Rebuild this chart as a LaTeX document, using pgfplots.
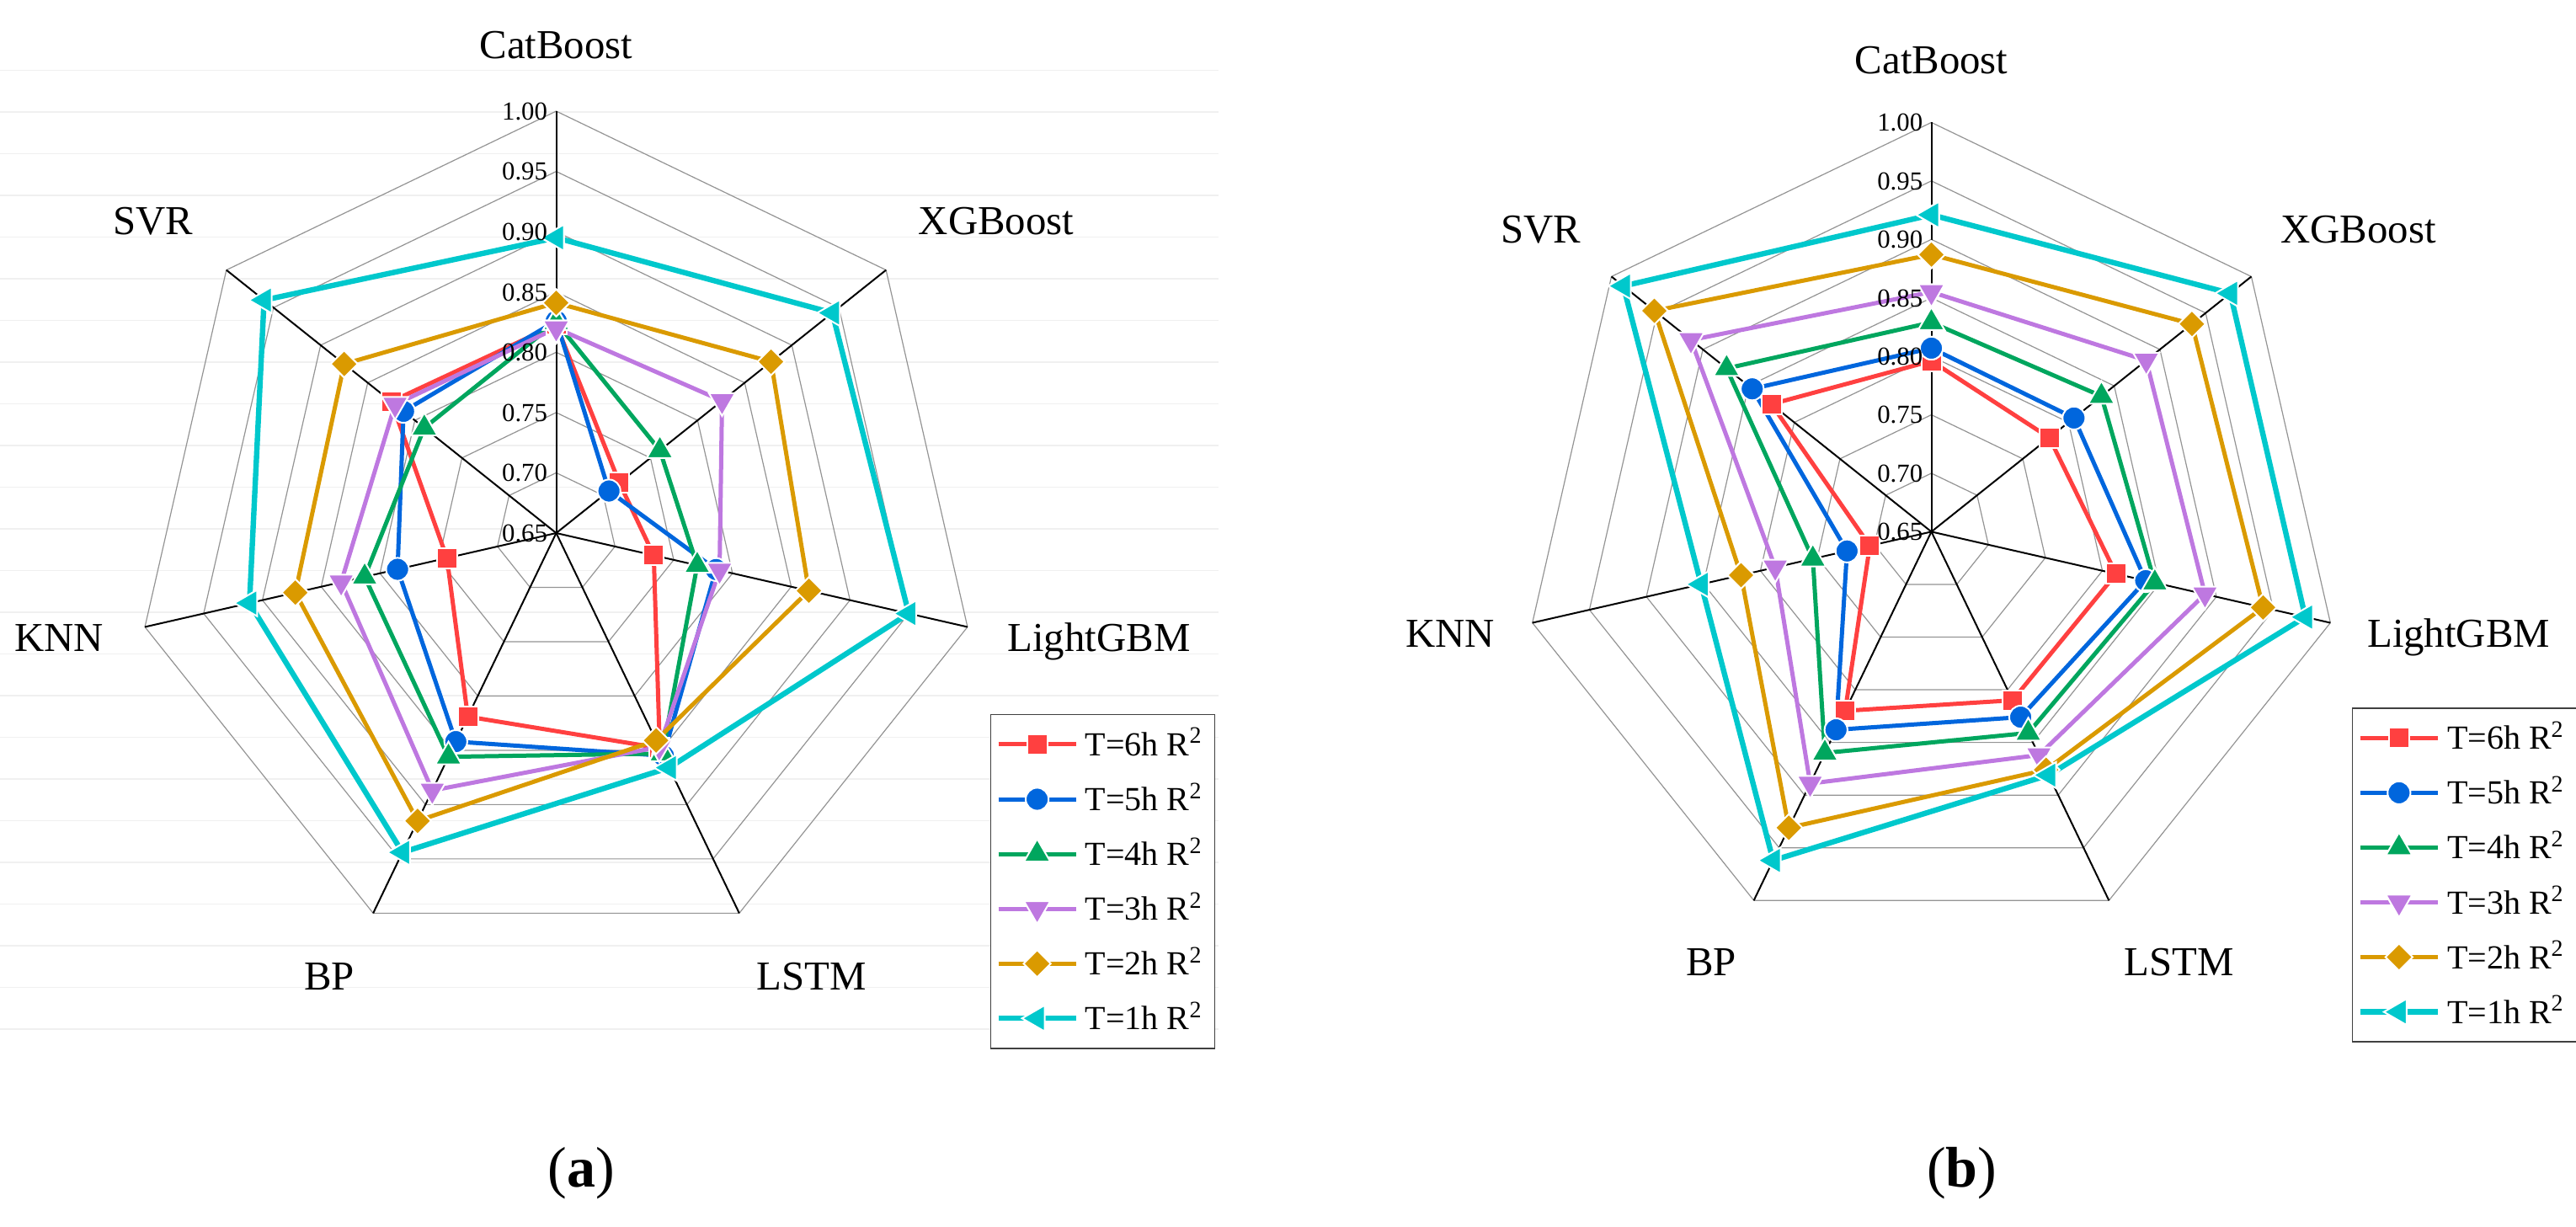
\documentclass[border=0pt]{standalone}
\usepackage{fontspec}
\setmainfont{Liberation Serif}
\usepackage{pgfplots}
\usepackage{pgfplotstable}
\pgfplotsset{compat=1.18}
\usepgfplotslibrary{polar}

\definecolor{cR}{HTML}{FF4040}
\definecolor{cB}{HTML}{0066DD}
\definecolor{cG}{HTML}{00A65E}
\definecolor{cP}{HTML}{BE78E0}
\definecolor{cO}{HTML}{DA9A00}
\definecolor{cC}{HTML}{00C8CC}

% angles: CatBoost, XGBoost, LightGBM, LSTM, BP, KNN, SVR, CatBoost again to close
\pgfplotstableread{
ang      h6     h5     h4     h3     h2     h1
90       0.823  0.826  0.825  0.820  0.841  0.895
38.5714  0.717  0.706  0.760  0.826  0.878  0.943
347.1429 0.733  0.786  0.770  0.789  0.865  0.950
295.7143 0.848  0.855  0.853  0.847  0.841  0.866
244.2857 0.819  0.842  0.856  0.887  0.915  0.944
192.8571 0.743  0.785  0.813  0.833  0.872  0.911
141.4286 0.825  0.812  0.790  0.821  0.875  0.960
90       0.823  0.826  0.825  0.820  0.841  0.895
}\dataA

\pgfplotstableread{
ang      h6     h5     h4     h3     h2     h1
90       0.796  0.807  0.829  0.855  0.887  0.921
38.5714  0.779  0.806  0.836  0.885  0.935  0.977
347.1429 0.812  0.838  0.846  0.890  0.941  0.978
295.7143 0.810  0.826  0.841  0.862  0.876  0.881
244.2857 0.820  0.838  0.860  0.889  0.931  0.962
192.8571 0.704  0.724  0.754  0.787  0.817  0.852
141.4286 0.825  0.846  0.874  0.913  0.953  0.987
90       0.796  0.807  0.829  0.855  0.887  0.921
}\dataB

\newcommand{\catf}{\fontsize{12.2}{14}\selectfont}
\newcommand{\tickf}{\fontsize{7.7}{9}\selectfont}

\pgfplotsset{
  ring/.style={color=black!42, line width=0.3pt, mark=none, forget plot},
  spoke/.style={color=black, line width=0.5pt, mark=none, forget plot},
  ser/.style={color=#1, line width=1.25pt,
    mark options={solid, fill=#1, draw=white, line width=0.5pt}},
  s6/.style={ser=cR, mark=square*, mark size=3.0pt},
  s5/.style={ser=cB, mark=*, mark size=3.4pt},
  s4/.style={ser=cG, mark=triangle*, mark size=4.5pt},
  s3/.style={ser=cP, mark=triangle*, mark size=4.5pt,
    every mark/.append style={rotate=180}},
  s2/.style={ser=cO, mark=square*, mark size=2.85pt,
    every mark/.append style={rotate=45}},
  s1/.style={ser=cC, line width=1.6pt, mark=triangle*, mark size=4.5pt,
    every mark/.append style={rotate=90}},
  radar/.style={
    scale only axis, width=#1, height=#1,
    xmin=0, xmax=360, ymin=0.65, ymax=1,
    y coord trafo/.code={\pgfmathparse{##1-0.65}},
    y coord inv trafo/.code={\pgfmathparse{##1+0.65}},
    hide axis, clip=false, anchor=center,
    legend cell align=left,
    legend style={anchor=north west, draw=black!75, line width=0.4pt,
      font=\fontsize{10}{12}\selectfont, inner xsep=1.5pt, inner ysep=2pt,
      row sep=2.5pt},
    legend image code/.code={%
      \draw[mark repeat=2,mark phase=2]
        plot coordinates {(0pt,0pt) (11.5pt,0pt) (23pt,0pt)};},
  },
}

\begin{document}
\begin{tikzpicture}
\useasboundingbox (0,0) rectangle (764.75pt,364pt);

% faint background rules behind panel (a)
\foreach \k in {0,...,23}{
  \draw[black!6, line width=0.35pt]
    ({0pt},{(343.1-12.375*\k)*1pt}) -- ({361.75pt},{(343.1-12.375*\k)*1pt});
}

% ---------------- panel (a)
\begin{polaraxis}[radar=250.5pt, at={(165.125pt,205.75pt)},
  legend style={at={(1.0141,0.2858)}}]
\pgfplotsinvokeforeach{0.70,0.75,0.80,0.85,0.90,0.95,1.00}{
  \addplot[ring] coordinates {(90,#1)(38.5714,#1)(347.1429,#1)(295.7143,#1)
    (244.2857,#1)(192.8571,#1)(141.4286,#1)(90,#1)};
}
\pgfplotsinvokeforeach{90,38.5714,347.1429,295.7143,244.2857,192.8571,141.4286}{
  \addplot[spoke] coordinates {(#1,0.65)(#1,1.00)};
}
\addplot[s6] table[x=ang,y=h6]{\dataA};
\addplot[s5] table[x=ang,y=h5]{\dataA};
\addplot[s4] table[x=ang,y=h4]{\dataA};
\addplot[s3] table[x=ang,y=h3]{\dataA};
\addplot[s2] table[x=ang,y=h2]{\dataA};
\addplot[s1] table[x=ang,y=h1]{\dataA};
\legend{T=6h R\textsuperscript{2},T=5h R\textsuperscript{2},T=4h R\textsuperscript{2},
  T=3h R\textsuperscript{2},T=2h R\textsuperscript{2},T=1h R\textsuperscript{2}}
\end{polaraxis}

% ---------------- panel (b)
\begin{polaraxis}[radar=243pt, at={(573.375pt,206.15pt)},
  legend style={at={(1.0137,0.2854)}}]
\pgfplotsinvokeforeach{0.70,0.75,0.80,0.85,0.90,0.95,1.00}{
  \addplot[ring] coordinates {(90,#1)(38.5714,#1)(347.1429,#1)(295.7143,#1)
    (244.2857,#1)(192.8571,#1)(141.4286,#1)(90,#1)};
}
\pgfplotsinvokeforeach{90,38.5714,347.1429,295.7143,244.2857,192.8571,141.4286}{
  \addplot[spoke] coordinates {(#1,0.65)(#1,1.00)};
}
\addplot[s6] table[x=ang,y=h6]{\dataB};
\addplot[s5] table[x=ang,y=h5]{\dataB};
\addplot[s4] table[x=ang,y=h4]{\dataB};
\addplot[s3] table[x=ang,y=h3]{\dataB};
\addplot[s2] table[x=ang,y=h2]{\dataB};
\addplot[s1] table[x=ang,y=h1]{\dataB};
\legend{T=6h R\textsuperscript{2},T=5h R\textsuperscript{2},T=4h R\textsuperscript{2},
  T=3h R\textsuperscript{2},T=2h R\textsuperscript{2},T=1h R\textsuperscript{2}}
\end{polaraxis}

% tick labels on the CatBoost spoke
\foreach \k/\t in {0/0.65,1/0.70,2/0.75,3/0.80,4/0.85,5/0.90,6/0.95,7/1.00}{
  \node[anchor=east, font=\tickf, inner sep=0pt, text height=5.2pt, text depth=0pt]
    at ({162.7pt},{205.75pt+17.893pt*\k}) {\t};
  \node[anchor=east, font=\tickf, inner sep=0pt, text height=5.2pt, text depth=0pt]
    at ({571pt},{206.15pt+17.357pt*\k}) {\t};
}

% model names
\tikzset{cat/.style={font=\catf, inner sep=0pt, text height=8.1pt, text depth=0pt, anchor=center}}
\node[cat] at (165.1pt,350.75pt) {CatBoost};
\node[cat] at (295.75pt,298.5pt) {XGBoost};
\node[cat] at (326.25pt,174.75pt) {LightGBM};
\node[cat] at (241pt,74.25pt) {LSTM};
\node[cat] at (97.75pt,74.25pt) {BP};
\node[cat] at (17.5pt,174.75pt) {KNN};
\node[cat] at (45.5pt,298.5pt) {SVR};

\node[cat] at (573.4pt,346.1pt) {CatBoost};
\node[cat] at (700.15pt,296pt) {XGBoost};
\node[cat] at (729.9pt,176pt) {LightGBM};
\node[cat] at (647pt,78.5pt) {LSTM};
\node[cat] at (508pt,78.5pt) {BP};
\node[cat] at (430.5pt,176pt) {KNN};
\node[cat] at (457.5pt,296pt) {SVR};

% panel captions
\node[font=\fontsize{17}{20}\selectfont, inner sep=0pt] at (172.5pt,15.75pt) {(\textbf{a})};
\node[font=\fontsize{17}{20}\selectfont, inner sep=0pt] at (582.4pt,15.75pt) {(\textbf{b})};
\end{tikzpicture}
\end{document}
